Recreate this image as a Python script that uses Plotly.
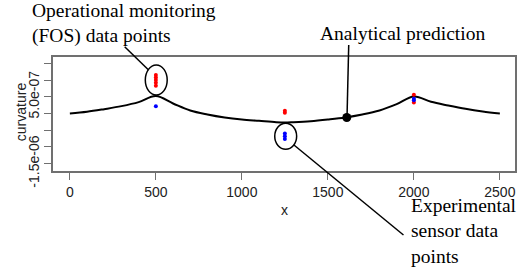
import plotly.graph_objects as go

# ---------------- data ----------------
x_pred = [0, 100, 200, 300, 400, 500, 600, 700, 800, 900, 1000, 1100, 1200, 1250,
          1300, 1400, 1500, 1600, 1700, 1800, 1900, 2000, 2100, 2200, 2300, 2400, 2500]
curv_pred = [0.0, 0.5e-7, 1.3e-7, 2.2e-7, 3.4e-7, 5.2e-7, 3.0e-7, 0.9e-7, -0.3e-7, -1.2e-7,
             -1.8e-7, -2.2e-7, -2.6e-7, -2.7e-7, -2.6e-7, -2.3e-7, -1.8e-7, -1.2e-7, -0.3e-7,
             0.9e-7, 2.8e-7, 5.1e-7, 3.5e-7, 2.4e-7, 1.4e-7, 0.6e-7, 0.0]

fos_x = [500, 500, 500, 500, 500, 1250, 1250, 2000, 2000]
fos_y = [1.15e-6, 1.08e-6, 1.0e-6, 0.92e-6, 0.83e-6, 0.85e-7, 0.25e-7, 5.6e-7, 3.3e-7]

exp_x = [500, 1250, 1250, 1250, 2000, 2000]
exp_y = [2.2e-7, -6.0e-7, -6.8e-7, -7.6e-7, 4.4e-7, 4.0e-7]

pred_marker_x = [1610]
pred_marker_y = [-1.2e-7]

x_ticks = [0, 500, 1000, 1500, 2000, 2500]
y_ticks = [-1.5e-6, -1.0e-6, -5.0e-7, 0.0, 5.0e-7, 1.0e-6, 1.5e-6]
y_ticktext = ["-1.5e-06", "", "", "", "5.0e-07", "", ""]

# ---------------- layout helpers ----------------
W, H = 520, 267
L, R, T, B = 53, 517, 57, 171


def px(x):
    return (x - L) / (R - L)


def py(y):
    return (B - y) / (B - T)


fig = go.Figure()
fig.add_trace(go.Scatter(x=x_pred, y=curv_pred, mode="lines", line=dict(color="black", width=2, shape="spline"),
                         showlegend=False, hoverinfo="skip"))
fig.add_trace(go.Scatter(x=fos_x, y=fos_y, mode="markers", marker=dict(color="#ff0000", size=4),
                         showlegend=False))
fig.add_trace(go.Scatter(x=exp_x, y=exp_y, mode="markers", marker=dict(color="#0000ff", size=4),
                         showlegend=False))
fig.add_trace(go.Scatter(x=pred_marker_x, y=pred_marker_y, mode="markers", marker=dict(color="black", size=9),
                         showlegend=False))

axis_col = "#707070"
fig.update_xaxes(range=[-98, 2588], tickvals=x_ticks, ticktext=[str(v) for v in x_ticks],
                 showgrid=False, zeroline=False, showline=True, mirror=True, linecolor=axis_col,
                 linewidth=1.5, ticks="outside", ticklen=7, tickcolor=axis_col,
                 tickfont=dict(family="Liberation Sans", size=14, color="#222"))
fig.update_yaxes(range=[-1.72e-6, 1.69e-6], tickvals=y_ticks, ticktext=y_ticktext, tickangle=-90,
                 showgrid=False, zeroline=False, showline=True, mirror=True, linecolor=axis_col,
                 linewidth=1.5, ticks="outside", ticklen=7, tickcolor=axis_col,
                 tickfont=dict(family="Liberation Sans", size=14, color="#222"))

serif = dict(family="Liberation Serif", size=19.5, color="black")
sans = dict(family="Liberation Sans", size=14, color="#222")
annotations = [
    dict(x=px(285), y=py(220), xref="paper", yref="paper", text="x", showarrow=False, font=sans),
    dict(x=px(11), y=py(112), xref="paper", yref="paper", text="curvature", textangle=-90,
         showarrow=False, font=sans),
    dict(x=px(30), y=py(-2), xref="paper", yref="paper", xanchor="left", yanchor="top", align="left",
         text="Operational monitoring<br>(FOS) data points", showarrow=False, font=serif),
    dict(x=px(319), y=py(21), xref="paper", yref="paper", xanchor="left", yanchor="top", align="left",
         text="Analytical prediction", showarrow=False, font=serif),
    dict(x=px(411), y=py(193), xref="paper", yref="paper", xanchor="left", yanchor="top", align="left",
         text="Experimental<br>sensor data<br>points", showarrow=False, font=serif),
]

shapes = [
    dict(type="circle", xref="paper", yref="paper", x0=px(145.7), x1=px(167.7), y0=py(95), y1=py(65),
         line=dict(color="black", width=1.5)),
    dict(type="circle", xref="paper", yref="paper", x0=px(275.7), x1=px(297.7), y0=py(149.3), y1=py(123.3),
         line=dict(color="black", width=1.5)),
    dict(type="line", xref="paper", yref="paper", x0=px(125), y0=py(46.7), x1=px(149), y1=py(70),
         line=dict(color="black", width=1.5)),
    dict(type="line", xref="paper", yref="paper", x0=px(350), y0=py(45), x1=px(348.3), y1=py(117),
         line=dict(color="black", width=1.5)),
    dict(type="line", xref="paper", yref="paper", x0=px(295), y0=py(145), x1=px(405), y1=py(235),
         line=dict(color="black", width=1.5)),
]

fig.update_layout(width=W, height=H, margin=dict(l=L, r=W - R, t=T, b=H - B),
                  plot_bgcolor="white", paper_bgcolor="white",
                  annotations=annotations, shapes=shapes)

fig.write_html("out.html")
